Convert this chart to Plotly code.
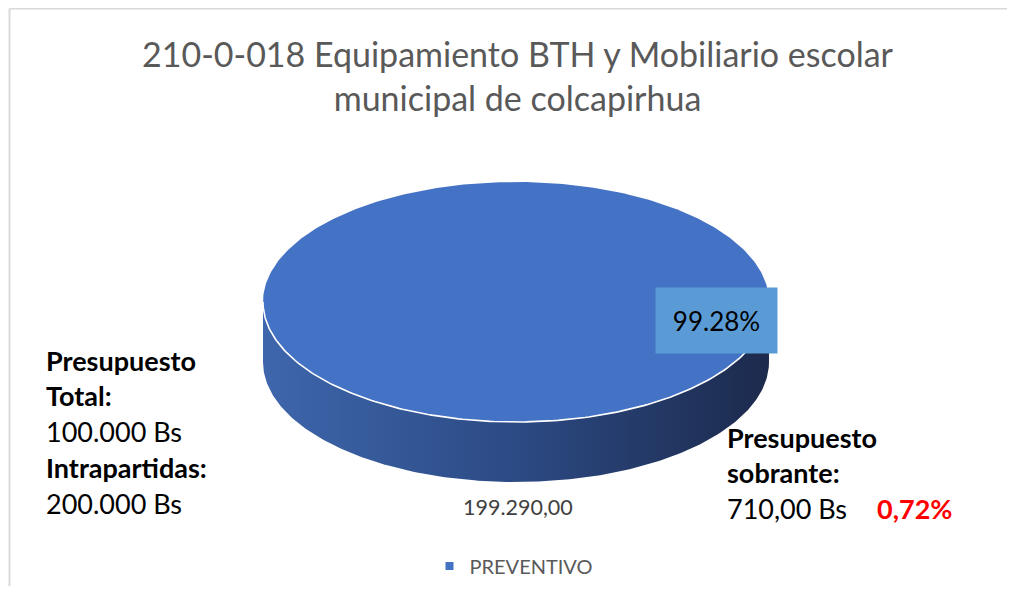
import numpy as np
import plotly.graph_objects as go

# ---- data ----
categories = ["PREVENTIVO"]
values = [199290.00]
value_labels = ["199.290,00"]
pct_labels = ["99.28%"]
title_lines = ["210-0-018 Equipamiento BTH y Mobiliario escolar", "municipal de colcapirhua"]
left_notes = [("Presupuesto", True), ("Total:", True), ("100.000 Bs", False),
              ("Intrapartidas:", True), ("200.000 Bs", False)]
right_notes = [("Presupuesto", True), ("sobrante:", True), ("710,00 Bs", False)]
sobrante_pct = "0,72%"

# ---- geometry / style ----
OFF = 8  # page body margin compensation
W, H = 1015 - 2 * OFF, 594 - 2 * OFF
cx, cy, rx, ry, depth = 516, 302, 253, 120, 60
top_color = "#4472C4"
FONT = "Lato"

fig = go.Figure()

total = sum(values)
fracs = np.cumsum([0] + values) / total
for i, cat in enumerate(categories):
    a0, a1 = 2 * np.pi * fracs[i], 2 * np.pi * fracs[i + 1]
    lo, hi = max(a0, 0.0), min(a1, np.pi)
    if hi > lo:
        t = np.linspace(lo, hi, 200)
        ex = cx + rx * np.cos(t)
        ey = cy + ry * np.sin(t)
        sx = np.concatenate([ex, ex[::-1]])
        sy = np.concatenate([ey, (ey + depth)[::-1]])
        fig.add_trace(go.Scatter(
            x=sx, y=sy, mode="lines", fill="toself", line=dict(width=0),
            fillgradient=dict(type="horizontal",
                              colorscale=[[0, "#3E66AC"], [0.5, "#2C4A84"], [1, "#1C2A4C"]]),
            hoverinfo="skip", showlegend=False))
    t = np.linspace(a0, a1, 400)
    tx = cx + rx * np.cos(t)
    ty = cy + ry * np.sin(t)
    if a1 - a0 < 2 * np.pi - 1e-9:
        tx = np.concatenate([[cx], tx, [cx]])
        ty = np.concatenate([[cy], ty, [cy]])
    fig.add_trace(go.Scatter(
        x=tx, y=ty, mode="lines", fill="toself", fillcolor=top_color,
        line=dict(width=0, color=top_color), hoverinfo="skip", showlegend=False))
    if hi > lo:
        t = np.linspace(lo, hi, 200)
        fig.add_trace(go.Scatter(
            x=cx + rx * np.cos(t), y=cy + ry * np.sin(t), mode="lines",
            line=dict(width=1.6, color="white"), hoverinfo="skip", showlegend=False))
    fig.add_trace(go.Scatter(
        x=[None], y=[None], mode="markers", name=cat,
        marker=dict(symbol="square", size=8, color=top_color)))

annotations = []
annotations.append(dict(x=518, y=75, xref="x", yref="y", showarrow=False,
                        text="<br>".join(title_lines), align="center",
                        font=dict(family=FONT, size=34, color="#595959")))
annotations.append(dict(x=716.5, y=320.5, xref="x", yref="y", showarrow=False,
                        text=pct_labels[0], bgcolor="#5B9BD5", width=107, height=51,
                        borderpad=7, font=dict(family=FONT, size=26, color="#000000")))
annotations.append(dict(x=518, y=507, xref="x", yref="y", showarrow=False,
                        text=value_labels[0], font=dict(family=FONT, size=21.5, color="#404040")))
for k, (txt, bold) in enumerate(left_notes):
    annotations.append(dict(x=44, y=360 + 35.8 * k, xref="x", yref="y", showarrow=False,
                            xanchor="left", text=f"<b>{txt}</b>" if bold else txt,
                            font=dict(family=FONT, size=27, color="#000000")))
for k, (txt, bold) in enumerate(right_notes):
    annotations.append(dict(x=725, y=437 + 35.5 * k, xref="x", yref="y", showarrow=False,
                            xanchor="left", text=f"<b>{txt}</b>" if bold else txt,
                            font=dict(family=FONT, size=27, color="#000000")))
annotations.append(dict(x=875, y=508, xref="x", yref="y", showarrow=False, xanchor="left",
                        text=f"<b>{sobrante_pct}</b>",
                        font=dict(family=FONT, size=27, color="#FF0000")))

fig.update_layout(
    width=W, height=H, margin=dict(l=0, r=0, t=0, b=0),
    paper_bgcolor="white", plot_bgcolor="white",
    xaxis=dict(range=[OFF, W + OFF], visible=False, fixedrange=True),
    yaxis=dict(range=[H + OFF, OFF], visible=False, fixedrange=True),
    annotations=annotations,
    legend=dict(orientation="h", x=(514 - OFF) / W, y=1 - (566 - OFF) / H,
                xanchor="center", yanchor="middle",
                font=dict(family=FONT, size=20, color="#595959"), itemwidth=30),
    shapes=[
        dict(type="line", xref="x", yref="y", x0=9.5, y0=8.5, x1=9.5, y1=H + OFF + 5,
             line=dict(color="#D9D9D9", width=2), layer="below"),
        dict(type="line", xref="x", yref="y", x0=9.5, y0=8.5, x1=W + OFF + 5, y1=8.5,
             line=dict(color="#D9D9D9", width=2), layer="below"),
    ],
)

fig.write_html("out.html")
